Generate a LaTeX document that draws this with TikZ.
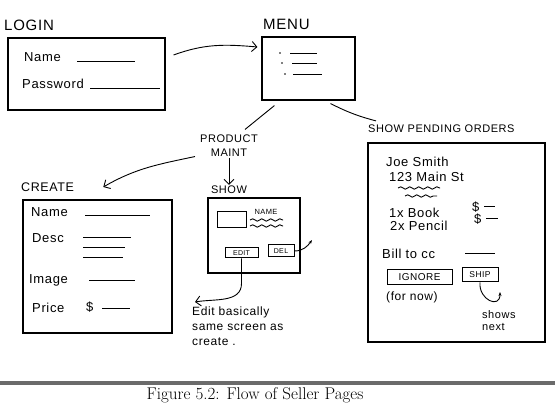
\documentclass[tikz,border=0pt]{standalone}
\usepackage{fontspec}
\newfontfamily\hand[LetterSpace=5]{Liberation Sans}
\usetikzlibrary{arrows.meta,positioning,decorations.pathmorphing}
\tikzset{
  screen/.style={draw, rectangle, line width=1.1pt, inner sep=0pt},
  btn/.style={draw, rectangle, line width=1pt, inner sep=0pt, font=\hand\fontsize{7}{8}\selectfont},
  title/.style={font=\hand\fontsize{11}{14}\selectfont, inner sep=1pt},
  bigtitle/.style={font=\hand\fontsize{15}{16}\selectfont, inner sep=1pt},
  field/.style={font=\hand\fontsize{13}{15}\selectfont, anchor=west, inner sep=1pt},
  note/.style={font=\hand\fontsize{12}{15}\selectfont, align=left, inner sep=0pt},
  blank/.style={line width=0.9pt},
  squiggle/.style={line width=0.9pt, decorate, decoration={snake, amplitude=1.2pt, segment length=9pt}},
  arr/.style={-{Straight Barb[length=5pt]}, line width=0.9pt},
}
\begin{document}
\begin{tikzpicture}[x=1pt,y=1pt]
\useasboundingbox (0,0) rectangle (555,407);
% login page
\node[bigtitle, anchor=west] (loginlbl) at (3,382) {LOGIN};
\node[screen, minimum width=157pt, minimum height=72pt] (login) at (86.5,333) {};
\node[field] (lname) at (23,350) {Name};
\draw[blank] (77,346) -- (135,346);
\node[field] (lpass) at (21,323) {Password};
\draw[blank] (90,319) -- (160,319);
% menu
\node[bigtitle, anchor=west] (menulbl) at (262,383) {MENU};
\node[screen, minimum width=93pt, minimum height=63pt] (menu) at (308.5,338.5) {};
\foreach \d/\y/\a/\b in {280/354/290/317, 282/344/292/317, 285/333/293/322}{
  \fill (\d,\y) circle (0.9pt);
  \draw[blank] (\a,\y) -- (\b,\y);
}
\draw[arr] ([shift={(8pt,19pt)}]login.east) to[out=20,in=175] ([shift={(-4pt,21.5pt)}]menu.west);
% branches
\node[title, align=center] (maint) at (229,261.5) {PRODUCT\\MAINT};
\node[title, anchor=west] (pend) at (367,278) {SHOW PENDING ORDERS};
\draw[blank] ([shift={(13pt,-5pt)}]menu.south west) -- ([shift={(16pt,4pt)}]maint.north);
\draw[blank] ([shift={(-25pt,-3pt)}]menu.south east) to[bend right=6] ([shift={(9pt,3pt)}]pend.north west);
% create
\node[title, font=\hand\fontsize{12.5}{14}\selectfont, anchor=west] (createlbl) at (20,220) {CREATE};
\draw[arr] ([shift={(-4pt,1pt)}]maint.south west) to[out=192,in=30] ([xshift=28pt]createlbl.east);
\node[screen, minimum width=149pt, minimum height=133pt] (create) at (97.5,140.5) {};
\node[field] (cname) at (30,195) {Name};
\draw[blank] (85,192) -- (150,192);
\node[field] (cdesc) at (31,169) {Desc};
\draw[blank] (83,170) -- (131,170);
\draw[blank] (83,160) -- (125,160);
\draw[blank] (83,150) -- (123,150);
\node[field] (cimage) at (28,127) {Image};
\draw[blank] (89,127) -- (135,127);
\node[field] (cprice) at (31,99) {Price};
\node[field] (cdollar) at (85,100) {\$};
\draw[blank] (102,99) -- (130,99);
% show product
\node[title] (showlbl) at (229,217) {SHOW};
\draw[arr] (maint) -- (showlbl);
\node[screen, minimum width=92pt, minimum height=75pt] (show) at (254,171.5) {};
\node[draw, line width=1pt, minimum width=29pt, minimum height=16pt, inner sep=0pt] (thumb) at (231.5,187) {};
\node[font=\hand\fontsize{7.5}{8}\selectfont, inner sep=0pt] (sname) at (266,195.5) {NAME};
\draw[squiggle] (250,187) -- (283,187);
\draw[squiggle] (250,181) -- (283,181);
\node[btn, minimum width=33pt, minimum height=10pt] (edit) at (241.5,154) {EDIT};
\node[btn, minimum width=26pt, minimum height=12pt] (del) at (281,156) {DEL};
\coordinate (delto) at (312,167);
\draw[-{Stealth[length=4pt]}, line width=0.9pt] (del.east) to[out=0,in=235] (delto);
\node[note, anchor=north west] (note) at (192,100) {Edit basically\\same screen as\\create .};
\draw[arr] (edit.south) -- ++(0,-25) to[out=-90,in=10] ([shift={(3pt,5pt)}]note.north west);
% pending orders
\node[screen, minimum width=177pt, minimum height=199pt] (orders) at (456.5,164.5) {};
\node[field] (cust) at (385,245) {Joe Smith};
\node[field] (addr) at (388,230) {123 Main St};
\draw[squiggle] (398,219) -- (440,219);
\draw[squiggle] (405,211) -- (437,211);
\node[field] (item1) at (388,194) {1x Book};
\node[field] (item2) at (389,181) {2x Pencil};
\node[field] (cost1) at (471,200) {\$};
\draw[blank] (484,201) -- (495,201);
\node[field] (cost2) at (473,188) {\$};
\draw[blank] (486,189) -- (498,189);
\node[field] (bill) at (381,153) {Bill to cc};
\draw[blank] (465,154) -- (495,154);
\node[btn, font=\hand\fontsize{10}{11}\selectfont, minimum width=65pt, minimum height=15pt] (ignore) at (419.5,129.5) {IGNORE};
\node[note, anchor=west] (fornow) at (386,110) {(for now)};
\node[btn, font=\hand\fontsize{8.5}{9}\selectfont, minimum width=36pt, minimum height=14pt] (ship) at (480,132) {SHIP};
\coordinate (shipto) at (500,115);
\draw[-{Stealth[length=4pt]}, line width=0.9pt] (ship.south) to[out=-95,in=-90,looseness=2] (shipto);
\node[note, font=\hand\fontsize{11}{12}\selectfont, anchor=north west] (shows) at (482,97) {shows\\next};
% caption
\fill[black!58] (0,22) rectangle (555,26);
\node[font=\fontsize{17}{19}\selectfont, inner sep=0pt] (caption) at (255,12) {Figure 5.2: Flow of Seller Pages};
\end{tikzpicture}
\end{document}
